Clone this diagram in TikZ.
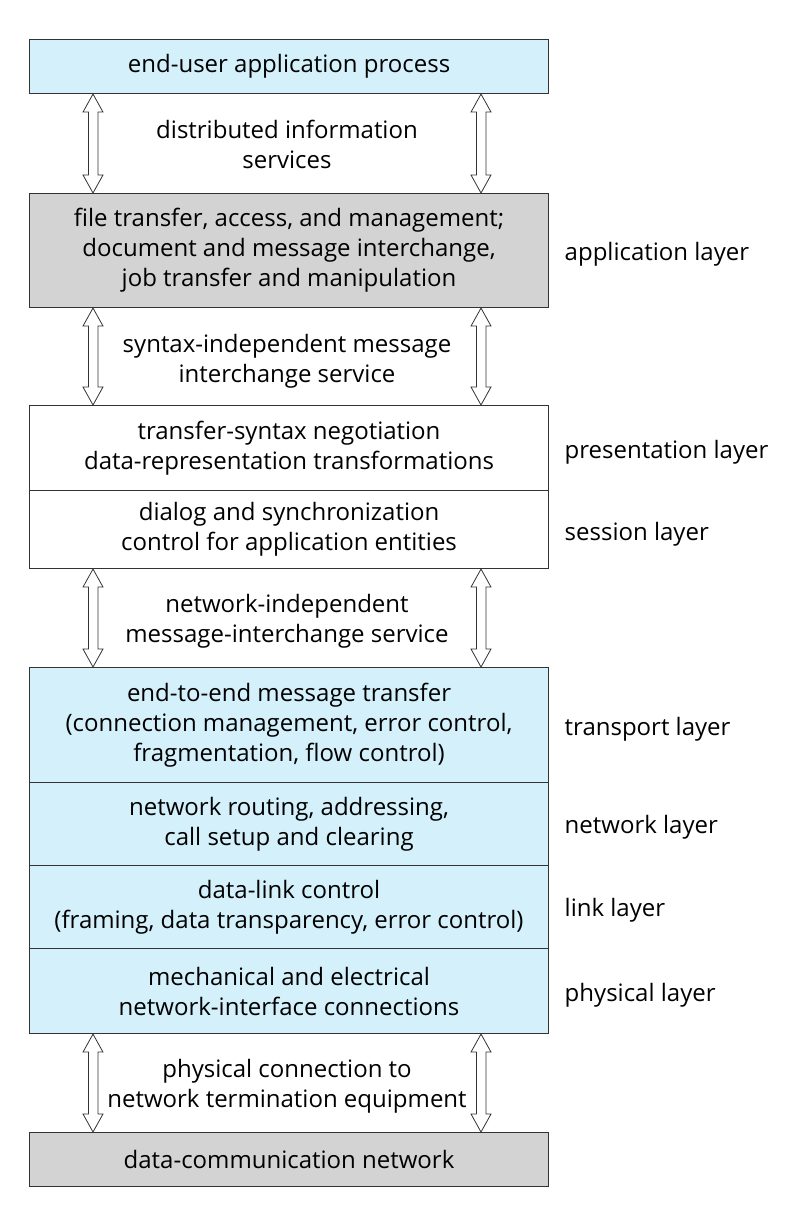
\documentclass[tikz,border=0pt]{standalone}
\usepackage{fontspec}
\setmainfont{Open Sans}
\definecolor{lblue}{HTML}{D3F0FB}
\definecolor{lgray}{HTML}{D3D3D3}
\newcommand{\hollowdar}[2]{%
  \draw[dar] (#1) -- ++(10,18) -- ++(-5,0) |- ($(#2)+(4.5,-18)$) -- ++(5.5,0) -- (#2) -- ++(-10,-18) -- ++(5.5,0) |- ($(#1)+(-4.5,18)$) -- ++(-5.5,0) -- cycle;}
\usetikzlibrary{calc}
\begin{document}
\begin{tikzpicture}[x=0.75pt,y=-0.75pt,
  every node/.style={font=\fontsize{18}{22.5}\selectfont},
  box/.style={draw=black!80,line width=0.8pt,minimum width=389.25pt,anchor=north west,inner sep=0pt,align=center},
  lab/.style={anchor=west,align=left},
  txt/.style={align=center},
  dar/.style={draw=black!80,line width=0.6pt,fill=white,line join=miter}]
\useasboundingbox (0,0) rectangle (804,1223);
\node[box,fill=lblue,minimum height=40.5pt] (b1) at (29,39) {end-user application process};
\node[box,fill=lgray,minimum height=85.5pt] (b2) at (29,193) {file transfer, access, and management;\\document and message interchange,\\job transfer and manipulation};
\node[box,fill=white,minimum height=63.75pt] (b3) at (29,405) {transfer-syntax negotiation\\data-representation transformations};
\node[box,fill=white,minimum height=58.5pt] (b4) at (29,490) {dialog and synchronization\\control for application entities};
\node[box,fill=lblue,minimum height=86.25pt] (b5) at (29,667) {end-to-end message transfer\\(connection management, error control,\\fragmentation, flow control)};
\node[box,fill=lblue,minimum height=62.25pt] (b6) at (29,782) {network routing, addressing,\\call setup and clearing};
\node[box,fill=lblue,minimum height=62.25pt] (b7) at (29,865) {data-link control\\(framing, data transparency, error control)};
\node[box,fill=lblue,minimum height=63.75pt] (b8) at (29,948) {mechanical and electrical\\network-interface connections};
\node[box,fill=lgray,minimum height=40.5pt] (b9) at (29,1132) {data-communication network};
\foreach \a/\b/\n in {b1/b2/1,b2/b3/2,b4/b5/3,b8/b9/4}{
  \path (\a.south west) ++(64,0) coordinate (L\n t);
  \path (\b.north west) ++(64,0) coordinate (L\n b);
  \path (\a.south west) ++(452,0) coordinate (R\n t);
  \path (\b.north west) ++(452,0) coordinate (R\n b);
  \hollowdar{L\n t}{L\n b}
  \hollowdar{R\n t}{R\n b}
}
\node[txt] (t1) at (287,144) {distributed information\\services};
\node[txt] (t2) at (287,361) {syntax-independent message\\interchange service};
\node[txt] (t3) at (287,621) {network-independent\\message-interchange service};
\node[txt] (t4) at (287,1086) {physical connection to\\network termination equipment};
\node[lab] at (560,254) {application layer};
\node[lab] at (560,452) {presentation layer};
\node[lab] at (560,534) {session layer};
\node[lab] at (560,729) {transport layer};
\node[lab] at (560,827) {network layer};
\node[lab] at (560,910) {link layer};
\node[lab] at (560,995) {physical layer};
\end{tikzpicture}
\end{document}
